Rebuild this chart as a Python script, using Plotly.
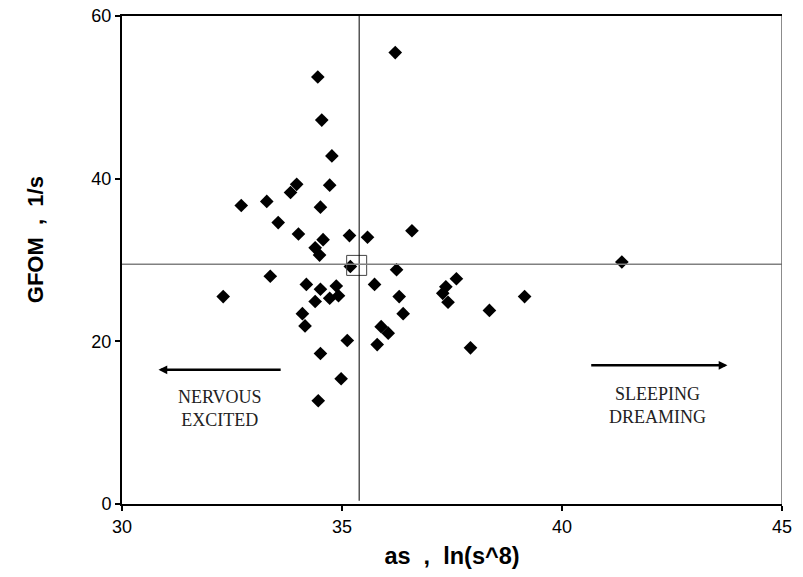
import numpy as np
import plotly.graph_objects as go

# ---- data ----
as_vals = [36.21, 34.45, 34.54, 34.77, 33.97, 33.83, 34.72, 32.71, 33.29, 34.51,
           33.55, 34.01, 34.57, 35.17, 35.58, 36.59, 34.39, 34.49, 35.19, 36.24,
           33.37, 32.30, 34.19, 34.51, 34.87, 34.39, 34.72, 34.92, 35.74, 36.30,
           36.39, 34.10, 34.16, 35.89, 36.05, 35.80, 35.12, 34.51, 34.98, 34.46,
           41.36, 37.60, 37.36, 37.29, 37.41, 39.15, 38.35, 37.92]
gfom_vals = [55.5, 52.5, 47.2, 42.8, 39.3, 38.3, 39.2, 36.7, 37.2, 36.5,
             34.6, 33.2, 32.5, 33.0, 32.8, 33.6, 31.5, 30.6, 29.2, 28.8,
             28.0, 25.5, 27.0, 26.4, 26.8, 24.9, 25.3, 25.6, 27.0, 25.5,
             23.4, 23.4, 21.9, 21.8, 21.0, 19.6, 20.1, 18.5, 15.4, 12.7,
             29.75, 27.7, 26.7, 25.9, 24.8, 25.5, 23.8, 19.2]
ref_x = 35.39      # vertical reference line
ref_y = 29.47      # horizontal reference line
x_ticks = [30, 35, 40, 45]
y_ticks = [0, 20, 40, 60]
left_arrow = dict(tip=30.83, tail=33.64, y=16.5)
right_arrow = dict(tip=43.76, tail=40.63, y=17.05)
left_label = dict(x=32.22, y=11.7, text="NERVOUS<br>EXCITED")
right_label = dict(x=42.16, y=12.1, text="SLEEPING<br>DREAMING")

mean_x = float(np.mean(as_vals))
mean_y = float(np.mean(gfom_vals))

sans = "Arial, Liberation Sans, sans-serif"
serif = "Times New Roman, Liberation Serif, serif"

fig = go.Figure()
fig.add_trace(go.Scatter(
    x=as_vals, y=gfom_vals, mode="markers",
    marker=dict(symbol="diamond", size=10.5, color="black"),
    showlegend=False, hoverinfo="x+y"))
fig.add_trace(go.Scatter(
    x=[mean_x], y=[mean_y], mode="markers",
    marker=dict(symbol="square-open", size=20, color="#444444", line=dict(width=1)),
    showlegend=False))

# reference lines
fig.add_shape(type="line", xref="x", yref="y", x0=ref_x, x1=ref_x, y0=0.4, y1=60,
              line=dict(color="black", width=1))
fig.add_shape(type="line", xref="x", yref="y", x0=30, x1=45, y0=ref_y, y1=ref_y,
              line=dict(color="#808080", width=1.6))
# right border
fig.add_shape(type="line", xref="x", yref="y", x0=45, x1=45, y0=0, y1=60,
              line=dict(color="#666666", width=1.5))

for arr in (left_arrow, right_arrow):
    fig.add_annotation(x=arr["tip"], y=arr["y"], ax=arr["tail"], ay=arr["y"],
                       xref="x", yref="y", axref="x", ayref="y", text="",
                       showarrow=True, arrowhead=2, arrowsize=0.7, arrowwidth=2.5,
                       arrowcolor="black", standoff=0, startstandoff=0)
for lab in (left_label, right_label):
    fig.add_annotation(x=lab["x"], y=lab["y"], xref="x", yref="y", text=lab["text"],
                       showarrow=False, font=dict(family=serif, size=18, color="#222222"),
                       align="center")

# y axis title as rotated annotation
fig.add_annotation(x=(35 - 122) / 660, y=(503.6 - 240) / 487.6, xref="paper", yref="paper",
                   text="<b>GFOM\u00a0\u00a0,\u00a0\u00a01/s</b>", textangle=-90, showarrow=False,
                   font=dict(family=sans, size=22, color="black"),
                   xanchor="center", yanchor="middle")

fig.update_layout(
    width=803, height=577,
    margin=dict(l=122, r=21, t=16, b=73.4, autoexpand=False),
    paper_bgcolor="white", plot_bgcolor="white",
    font=dict(family=sans, size=18, color="black"),
    xaxis=dict(range=[30, 45], tickvals=x_ticks, showgrid=False, zeroline=False,
               automargin=False,
               showline=True, linecolor="black", linewidth=2, mirror=True,
               ticks="outside", ticklen=5, tickwidth=1.5, tickcolor="black",
               tickfont=dict(family=sans, size=18),
               title=dict(text="<b>as\u00a0\u00a0,\u00a0\u00a0ln(s^8)</b>",
                          font=dict(family=sans, size=23.5), standoff=12)),
    yaxis=dict(range=[0, 60], tickvals=y_ticks, showgrid=False, zeroline=False,
               automargin=False,
               showline=True, linecolor="black", linewidth=2,
               ticks="outside", ticklen=5, tickwidth=1.5, tickcolor="black",
               tickfont=dict(family=sans, size=18)),
)

fig.write_html("out.html")
